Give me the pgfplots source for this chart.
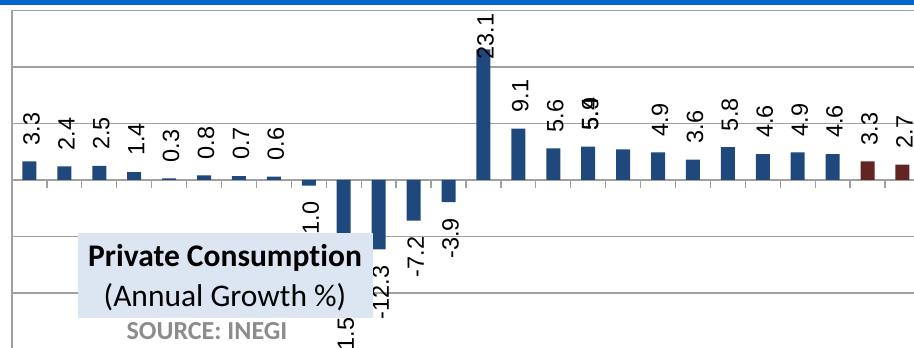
\documentclass[border=0pt]{standalone}
\usepackage{fontspec}
\setmainfont{Liberation Sans}
\newfontfamily\carlito[Ligatures={NoCommon}]{Carlito}
\usepackage{pgfplots}
\pgfplotsset{compat=1.18}
\definecolor{barblue}{HTML}{1F497D}
\definecolor{barred}{HTML}{632523}
\definecolor{gridgray}{HTML}{A0A0A0}
\definecolor{boxblue}{HTML}{DCE6F2}
\definecolor{topblue}{HTML}{0066CC}
\definecolor{srcgray}{HTML}{8C8C8C}
\pgfplotsset{
  lbls/.style={
    nodes near coords=\lbl,
    visualization depends on={value \thisrow{y} \as \lbl},
    visualization depends on={value \thisrow{anc} \as \anc},
    visualization depends on={\thisrow{dx} \as \dx},
    visualization depends on={\thisrow{dy} \as \dy},
    every node near coord/.append style={xshift=\dx bp, yshift=\dy bp, rotate=90, anchor=\anc,
      inner xsep=16bp, inner ysep=0pt, text=black, font=\fontsize{23.5bp}{28bp}\selectfont},
  }
}
\begin{document}
\begin{tikzpicture}
\begin{axis}[
  name=ax, scale only axis, width=977.76bp, height=339bp,
  xmin=-0.5, xmax=27.5, ymin=-30, ymax=30,
  axis x line=middle, axis y line=left,
  axis line style={-, draw=gridgray, line width=1.3bp},
  every inner x axis line/.append style={-},
  every outer y axis line/.append style={-},
  xtick={0.5,1.5,...,26.5}, xticklabels={},
  x tick style={draw=gridgray, line width=1.3bp}, major tick length=8bp, xtick align=outside,
  ytick={-20,-10,0,10,20,30}, yticklabels={}, y tick style={draw=none},
  ymajorgrids, grid style={draw=gridgray, line width=1.3bp},
]
\addplot[ybar, fill=barblue, draw=none, bar width=14bp, bar shift=0pt, lbls] table {
x y anc dx dy
0 3.3 west 2 0
1 2.4 west 2 0
2 2.5 west 2 0
3 1.4 west 2 0
4 0.3 west 2 0
5 0.8 west 2 0
6 0.7 west 2 0
7 0.6 west 2 0
8 -1.0 east 2 0
9 -21.5 east 2 0
10 -12.3 east 2 0
11 -7.2 east 2 0
12 -3.9 east 2 0
13 23.1 west 2 -26
14 9.1 west 2 0
15 5.6 west 2 0
16 5.9 west 2 0
17 5.4 west -32.9 3
18 4.9 west 2 0
19 3.6 west 2 0
20 5.8 west 2 0
21 4.6 west 2 0
22 4.9 west 2 0
23 4.6 west 2 0
};
\addplot[ybar, fill=barred, draw=none, bar width=14bp, bar shift=0pt, lbls] table {
x y anc dx dy
24 3.3 west 2 0
25 2.7 west 2 0
};
\end{axis}
\fill[topblue] ([xshift=-12bp,yshift=5.5bp]ax.north west) rectangle ([xshift=902bp,yshift=10.5bp]ax.north west);
\fill[boxblue] ([xshift=66bp,yshift=-222.5bp]ax.north west) rectangle ([xshift=361bp,yshift=-307.5bp]ax.north west);
\node[anchor=base, inner sep=0pt, font=\carlito\bfseries\fontsize{31.5bp}{36bp}\selectfont] at ([xshift=213bp,yshift=-256.2bp]ax.north west) {Private Consumption};
\node[anchor=base, inner sep=0pt, font=\carlito\fontsize{31.5bp}{36bp}\selectfont] at ([xshift=213bp,yshift=-296.5bp]ax.north west) {(Annual Growth \%)};
\node[anchor=base, inner sep=0pt, text=srcgray, font=\carlito\bfseries\fontsize{26bp}{30bp}\selectfont] at ([xshift=195bp,yshift=-328.8bp]ax.north west) {SOURCE: INEGI};
\pgfresetboundingbox
\useasboundingbox ([xshift=-12bp,yshift=1.5bp]ax.south west) rectangle ([xshift=902bp,yshift=10.5bp]ax.north west);
\end{tikzpicture}
\end{document}
